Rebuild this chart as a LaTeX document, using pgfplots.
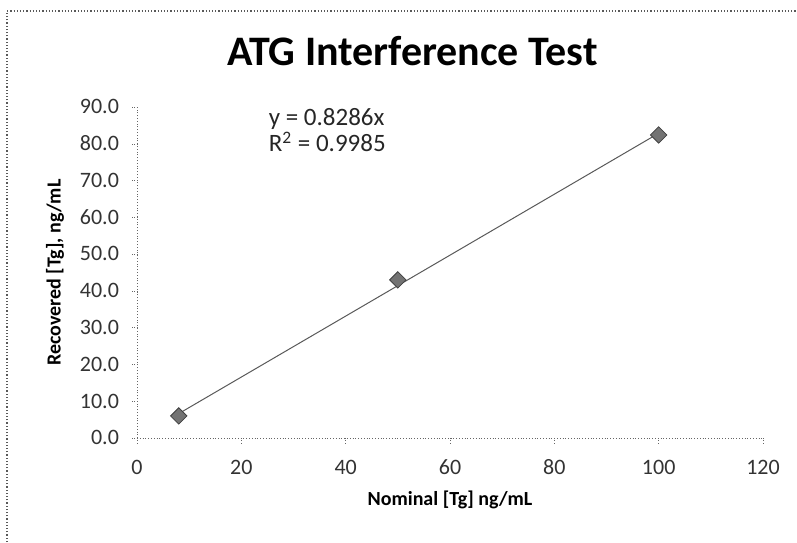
\documentclass[border=0pt]{standalone}
\usepackage{pgfplots}
\pgfplotsset{compat=1.18}
\usepackage{fontspec}
\setmainfont{Carlito}
\begin{document}
\begin{tikzpicture}
\useasboundingbox (-68.5pt,-52pt) rectangle (330pt,219pt);
% outer dotted frame (only left and top edges fall inside the picture)
\draw[densely dotted, gray!70!black, line width=0.6pt] (-65pt,-60pt) -- (-65pt,213.5pt) -- (340pt,213.5pt);
\begin{axis}[
    at={(0pt,0pt)}, anchor=origin,
    scale only axis,
    width=313pt, height=165.5pt,
    xmin=0, xmax=120, ymin=0, ymax=90,
    xtick={0,20,...,120},
    ytick={0,10,...,90},
    axis x line*=bottom,
    axis y line*=left,
    axis line style={densely dotted, gray!80!black, -},
    tick style={densely dotted, gray!80!black},
    tick align=outside,
    major tick length=2.5pt,
    typeset ticklabels with strut,
    yticklabel style={/pgf/number format/fixed, /pgf/number format/fixed zerofill, /pgf/number format/precision=1, xshift=-3pt, yshift=-1pt},
    /pgf/number format/assume math mode=true,
    ticklabel style={font=\fontsize{11}{12}\selectfont, text=black!80},
    xticklabel style={yshift=-4pt},
    title={\textbf{ATG Interference Test}},
    title style={font=\fontsize{21}{23}\selectfont, at={(0.44,1.0)}, anchor=center, yshift=22pt},
    xlabel={\textbf{Nominal [Tg] ng/mL}},
    ylabel={\textbf{Recovered [Tg], ng/mL}},
    label style={font=\fontsize{11.7}{13}\selectfont},
    every axis x label/.style={at={(axis description cs:0.5,0)}, anchor=center, yshift=-31pt},
    every axis y label/.style={at={(axis description cs:0,0.5)}, anchor=center, rotate=90, yshift=41pt},
    clip=false,
]
\addplot[no marks, line width=0.5pt, black!65] coordinates {(8,6.63) (100,82.86)};
\addplot[only marks, mark=square*, mark size=2.9pt,
    mark options={rotate=45, fill=black!55, draw=black!75}]
    coordinates {(8,6.0) (50,43.0) (100,82.4)};
\node[anchor=base west, inner sep=0pt, font=\fontsize{12.5}{13}\selectfont, text=black!85]
    at (axis cs:25.2,85.1) {y = 0.8286x};
\node[anchor=base west, inner sep=0pt, font=\fontsize{12.5}{13}\selectfont, text=black!85]
    at (axis cs:25.2,77.8) {R\textsuperscript{2} = 0.9985};
\end{axis}
\end{tikzpicture}
\end{document}
